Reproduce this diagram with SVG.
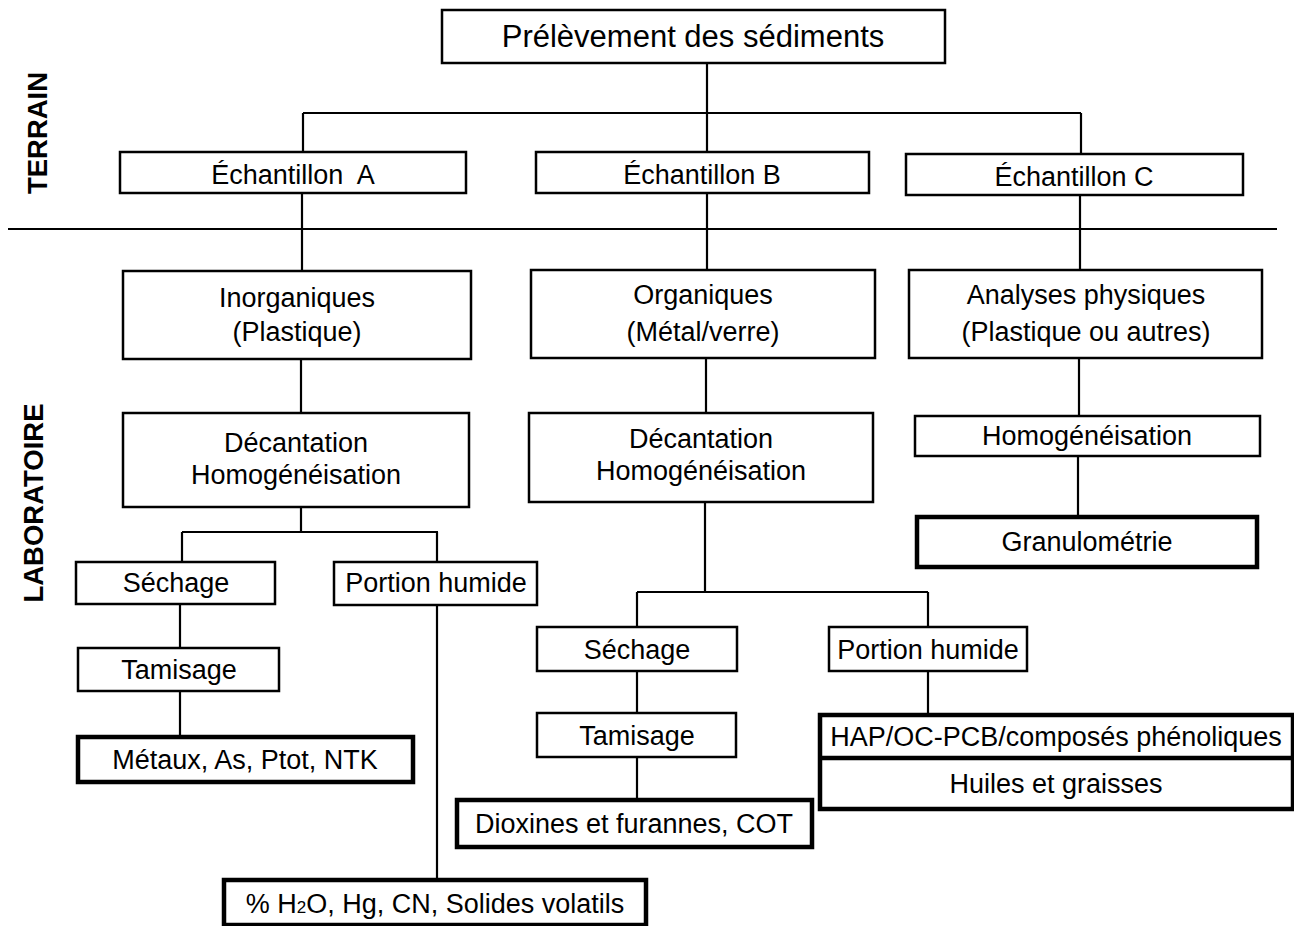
<svg xmlns="http://www.w3.org/2000/svg" width="1294" height="926" viewBox="0 0 1294 926">
  <style>
    .box { fill: #fff; stroke: #000; stroke-width: 2.5; }
    .thick { fill: #fff; stroke: #000; stroke-width: 4.5; }
    .lbl { font-family: "Liberation Sans", Arial, sans-serif; font-size: 27px; fill: #000; text-anchor: middle; }
    .big { font-size: 31px; }
    .side { font-family: "Liberation Sans", Arial, sans-serif; font-size: 27.5px; font-weight: bold; fill: #000; text-anchor: middle; }
    .wire { fill: none; stroke: #000; stroke-width: 2.2; }
  </style>
  <rect width="1294" height="926" fill="#fff"/>

  <!-- section labels -->
  <text class="side" transform="translate(47,133) rotate(-90)">TERRAIN</text>
  <text class="side" transform="translate(43,503) rotate(-90)">LABORATOIRE</text>

  <!-- connectors -->
  <g id="connectors">
    <line class="wire" x1="8" y1="229" x2="1277" y2="229"/>
    <path class="wire" d="M707 63 V113 M303 113 H1081 M303 113 V152 M707 113 V152 M1081 113 V154"/>
    <path class="wire" d="M302 193 V271 M707 193 V270 M1080 195 V270"/>
    <path class="wire" d="M301 359 V413 M706 358 V413 M1079 358 V416 M1078 456 V517"/>
    <path class="wire" d="M301 507 V532 M182 532 H438 M182 532 V562 M437 532 V562"/>
    <path class="wire" d="M180 604 V648 M180 691 V737 M437 605 V880"/>
    <path class="wire" d="M705 502 V592 M637 592 H928 M637 592 V627 M928 592 V627"/>
    <path class="wire" d="M637 671 V713 M637 757 V800 M928 671 V715"/>
  </g>

  <g id="prelevement">
    <rect class="box" x="442" y="10" width="503" height="53"/>
    <text class="lbl big" x="693" y="47">Prélèvement des sédiments</text>
  </g>

  <g id="echantillon-a">
    <rect class="box" x="120" y="152" width="346" height="41"/>
    <text class="lbl" x="293" y="184" xml:space="preserve">Échantillon  A</text>
  </g>
  <g id="echantillon-b">
    <rect class="box" x="536" y="152" width="333" height="41"/>
    <text class="lbl" x="702" y="184">Échantillon B</text>
  </g>
  <g id="echantillon-c">
    <rect class="box" x="906" y="154" width="337" height="41"/>
    <text class="lbl" x="1074" y="186">Échantillon C</text>
  </g>

  <g id="inorganiques">
    <rect class="box" x="123" y="271" width="348" height="88"/>
    <text class="lbl" x="297" y="307">Inorganiques</text>
    <text class="lbl" x="297" y="341">(Plastique)</text>
  </g>
  <g id="organiques">
    <rect class="box" x="531" y="270" width="344" height="88"/>
    <text class="lbl" x="703" y="304">Organiques</text>
    <text class="lbl" x="703" y="341">(Métal/verre)</text>
  </g>
  <g id="analyses-physiques">
    <rect class="box" x="909" y="270" width="353" height="88"/>
    <text class="lbl" x="1086" y="304">Analyses physiques</text>
    <text class="lbl" x="1086" y="341">(Plastique ou autres)</text>
  </g>

  <g id="decantation-a">
    <rect class="box" x="123" y="413" width="346" height="94"/>
    <text class="lbl" x="296" y="452">Décantation</text>
    <text class="lbl" x="296" y="484">Homogénéisation</text>
  </g>
  <g id="decantation-b">
    <rect class="box" x="529" y="413" width="344" height="89"/>
    <text class="lbl" x="701" y="448">Décantation</text>
    <text class="lbl" x="701" y="480">Homogénéisation</text>
  </g>
  <g id="homogeneisation-c">
    <rect class="box" x="915" y="416" width="345" height="40"/>
    <text class="lbl" x="1087" y="445">Homogénéisation</text>
  </g>
  <g id="granulometrie">
    <rect class="thick" x="917" y="517" width="340" height="50"/>
    <text class="lbl" x="1087" y="551">Granulométrie</text>
  </g>

  <g id="sechage-a">
    <rect class="box" x="76" y="562" width="199" height="42"/>
    <text class="lbl" x="176" y="592">Séchage</text>
  </g>
  <g id="portion-humide-a">
    <rect class="box" x="334" y="562" width="203" height="43"/>
    <text class="lbl" x="436" y="592">Portion humide</text>
  </g>
  <g id="tamisage-a">
    <rect class="box" x="78" y="648" width="201" height="43"/>
    <text class="lbl" x="179" y="679">Tamisage</text>
  </g>
  <g id="metaux">
    <rect class="thick" x="78" y="737" width="335" height="45"/>
    <text class="lbl" x="245" y="769">Métaux, As, Ptot, NTK</text>
  </g>
  <g id="portion-humide-a-analyses">
    <rect class="thick" x="224" y="880" width="422" height="45"/>
    <text class="lbl" x="435" y="913">% H<tspan font-size="17">2</tspan>O, Hg, CN, Solides volatils</text>
  </g>

  <g id="sechage-b">
    <rect class="box" x="537" y="627" width="200" height="44"/>
    <text class="lbl" x="637" y="659">Séchage</text>
  </g>
  <g id="portion-humide-b">
    <rect class="box" x="829" y="627" width="198" height="44"/>
    <text class="lbl" x="928" y="659">Portion humide</text>
  </g>
  <g id="tamisage-b">
    <rect class="box" x="537" y="713" width="199" height="44"/>
    <text class="lbl" x="637" y="745">Tamisage</text>
  </g>
  <g id="dioxines">
    <rect class="thick" x="457" y="800" width="355" height="47"/>
    <text class="lbl" x="634" y="833">Dioxines et furannes, COT</text>
  </g>
  <g id="organiques-humides">
    <rect class="thick" x="820" y="715" width="473" height="94"/>
    <line class="thick" x1="820" y1="758" x2="1293" y2="758"/>
    <text class="lbl" x="1056" y="746">HAP/OC-PCB/composés phénoliques</text>
    <text class="lbl" x="1056" y="793">Huiles et graisses</text>
  </g>
</svg>
